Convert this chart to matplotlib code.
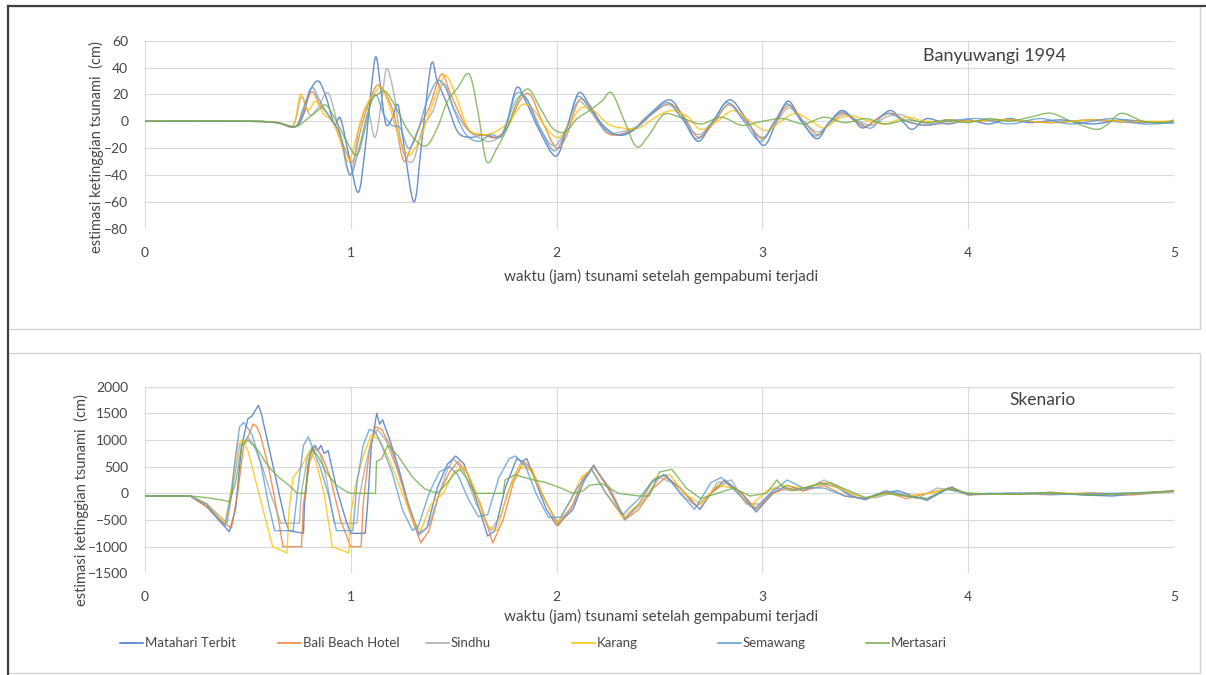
import matplotlib
matplotlib.use("Agg")
import matplotlib.pyplot as plt
from matplotlib.path import Path
from matplotlib.patches import PathPatch, Rectangle
from matplotlib.lines import Line2D
import numpy as np

plt.rcParams['font.family'] = ['Lato', 'DejaVu Sans']

# ---------------- DATA ----------------
series_names = ["Matahari Terbit", "Bali Beach Hotel", "Sindhu", "Karang", "Semawang", "Mertasari"]
series_colors = ["#4472C4", "#ED7D31", "#A5A5A5", "#FFC000", "#5B9BD5", "#70AD47"]

x_ticks = [0, 1, 2, 3, 4, 5]
top_y_ticks = [-80, -60, -40, -20, 0, 20, 40, 60]
bot_y_ticks = [-1500, -1000, -500, 0, 500, 1000, 1500, 2000]

top_title = "Banyuwangi 1994"
bot_title = "Skenario"
x_label = "waktu (jam) tsunami setelah gempabumi terjadi"
y_label = "estimasi ketinggian tsunami  (cm)"

# --- Banyuwangi 1994 (top panel), time in hours, height in cm ---
bw_t_matahari = [0, 0.5, 0.64, 0.73, 0.77, 0.80, 0.842, 0.88, 0.92, 0.95, 0.99, 1.036, 1.07, 1.10, 1.122, 1.145, 1.17, 1.2, 1.23, 1.26,
                 1.308, 1.345, 1.39, 1.42, 1.47, 1.52, 1.58, 1.65, 1.72, 1.76, 1.806, 1.85, 1.92, 1.997, 2.05, 2.106, 2.16, 2.22, 2.29, 2.36,
                 2.45, 2.549, 2.62, 2.687, 2.76, 2.84, 2.92, 3.005, 3.07, 3.126, 3.19, 3.264, 3.32, 3.384, 3.44, 3.488, 3.56, 3.625, 3.68, 3.729,
                 3.8, 3.9, 4.0, 4.1, 4.2, 4.3, 4.45, 4.6, 4.75, 4.9, 5.0]
bw_v_matahari = [0, 0, -1, -4, 5, 22, 30, 18, -2, 2, -25, -53, -20, 25, 48, 25, -2, 2, 12, -20,
                 -60, -15, 42, 30, 12, -8, -12, -10, -12, 0, 25, 15, -8, -26, -5, 21, 12, -2, -10, -8,
                 5, 16, 2, -15, 0, 16, 2, -18, 0, 15, 0, -13, -2, 8, 2, -5, 2, 8, 0, -6,
                 2, -2, 1, -2, 2, -1, 1, -2, 1, -1, -1]

bw_t_bali = [0, 0.5, 0.64, 0.73, 0.77, 0.81, 0.85, 0.89, 0.93, 0.97, 1.01, 1.05, 1.09, 1.13, 1.17, 1.21, 1.255, 1.29, 1.33, 1.38,
             1.44, 1.48, 1.53, 1.58, 1.64, 1.7, 1.76, 1.82, 1.87, 1.93, 2.0, 2.05, 2.11, 2.17, 2.24, 2.3, 2.38, 2.46, 2.55, 2.62,
             2.69, 2.77, 2.84, 2.92, 3.0, 3.06, 3.13, 3.2, 3.27, 3.33, 3.39, 3.45, 3.5, 3.56, 3.63, 3.7, 3.8, 3.9, 4.0, 4.2,
             4.4, 4.6, 4.8, 5.0]
bw_v_bali = [0, 0, -1, -4, 8, 22, 12, 5, -5, -20, -30, -5, 15, 27, 20, 5, -29, -20, -5, 10,
             35, 22, 5, -8, -10, -12, -5, 15, 20, 0, -20, -10, 16, 8, -8, -10, -5, 5, 13, 3,
             -12, 0, 13, 0, -13, 0, 12, 0, -10, 0, 6, 0, -4, 2, 6, 0, -3, 1, 0, 1,
             -1, 1, -1, 0]

bw_t_sindhu = [0, 0.5, 0.64, 0.72, 0.76, 0.80, 0.84, 0.89, 0.94, 0.996, 1.04, 1.08, 1.117, 1.15, 1.174, 1.21, 1.25, 1.3, 1.35, 1.4,
               1.45, 1.5, 1.56, 1.62, 1.68, 1.74, 1.8, 1.85, 1.9, 1.98, 2.04, 2.1, 2.16, 2.24, 2.31, 2.4, 2.48, 2.55, 2.62, 2.69,
               2.76, 2.84, 2.92, 3.0, 3.07, 3.13, 3.2, 3.27, 3.34, 3.4, 3.47, 3.53, 3.6, 3.67, 3.75, 3.85, 4.0, 4.2, 4.4, 4.6,
               4.8, 5.0]
bw_v_sindhu = [0, 0, -1, -3, 18, 5, 10, 21, -5, -40, -5, 10, -12, 15, 39, 20, -20, -30, -5, 8,
               28, 10, -5, -12, -15, -8, 15, 18, 0, -18, -8, 14, 8, -8, -8, -3, 8, 12, 0, -10,
               0, 12, 0, -12, 0, 10, 0, -8, 0, 5, 0, -3, 3, 5, 0, -2, 0, 1, -1, 1,
               -1, 0]

bw_t_karang = [0, 0.5, 0.64, 0.72, 0.755, 0.79, 0.83, 0.87, 0.91, 0.95, 0.99, 1.03, 1.07, 1.11, 1.15, 1.19, 1.23, 1.28, 1.33, 1.38,
               1.44, 1.47, 1.52, 1.57, 1.63, 1.7, 1.77, 1.83, 1.88, 1.95, 2.01, 2.07, 2.12, 2.18, 2.25, 2.32, 2.4, 2.48, 2.56, 2.64,
               2.7, 2.78, 2.86, 2.94, 3.02, 3.09, 3.16, 3.24, 3.3, 3.37, 3.44, 3.52, 3.6, 3.7, 3.8, 4.0, 4.2, 4.4, 4.6, 4.8,
               5.0]
bw_v_karang = [0, 0, -1, -3, 20, 8, 15, 5, 0, -15, -30, -10, 10, 20, 25, 10, -10, -25, -15, 5,
               30, 33, 15, -5, -10, -8, 0, 12, 10, -5, -12, 0, 10, 8, -2, -5, -5, 3, 8, 3,
               -6, 0, 8, 0, -7, 0, 6, 0, -5, 2, 4, 0, -2, 3, 0, 0, 1, -1, 1, 0,
               0]

bw_t_semawang = [0, 0.5, 0.64, 0.73, 0.77, 0.81, 0.85, 0.9, 0.95, 0.996, 1.04, 1.08, 1.12, 1.16, 1.2, 1.24, 1.28, 1.32, 1.37, 1.42,
                 1.46, 1.51, 1.56, 1.62, 1.68, 1.74, 1.8, 1.86, 1.92, 1.99, 2.05, 2.1, 2.16, 2.23, 2.3, 2.38, 2.46, 2.54, 2.61, 2.68,
                 2.76, 2.83, 2.91, 2.99, 3.06, 3.12, 3.19, 3.26, 3.33, 3.39, 3.46, 3.53, 3.6, 3.7, 3.8, 3.9, 4.05, 4.2, 4.35, 4.5,
                 4.7, 4.85, 5.0]
bw_v_semawang = [0, 0, -1, -4, 10, 25, 15, 2, -10, -40, -20, 5, 20, 5, -3, -5, -20, -10, 15, 30,
                 25, 5, -10, -15, -10, -10, 20, 15, -5, -22, -5, 18, 10, -5, -10, -6, 5, 14, 2, -13,
                 0, 14, 0, -15, 0, 13, 0, -11, 0, 7, 0, -5, 6, 0, -3, 0, 2, -2, 2, -2,
                 2, -2, -1]

bw_t_mertasari = [0, 0.5, 0.64, 0.73, 0.79, 0.84, 0.88, 0.93, 0.98, 1.03, 1.07, 1.1, 1.13, 1.17, 1.22, 1.27, 1.32, 1.37, 1.42, 1.47,
                  1.52, 1.576, 1.62, 1.66, 1.71, 1.76, 1.81, 1.863, 1.92, 1.98, 2.04, 2.1, 2.16, 2.22, 2.268, 2.33, 2.389, 2.45, 2.52, 2.6,
                  2.7, 2.8, 2.9, 3.0, 3.1, 3.2, 3.3, 3.4, 3.5, 3.6, 3.7, 3.8, 3.9, 4.0, 4.1, 4.2, 4.3, 4.4, 4.5, 4.62,
                  4.68, 4.745, 4.85, 4.95, 5.0]
bw_v_mertasari = [0, 0, -1, -4, 2, 8, 12, 0, -15, -25, -5, 15, 20, 22, 10, -5, -15, -18, -5, 15,
                  25, 35, 5, -30, -20, -5, 15, 24, 10, -5, -8, 2, 8, 15, 21, 0, -19, -10, 5, 3,
                  -2, 3, -3, 0, 2, -2, 3, -1, 2, -2, 1, -1, 1, -1, 2, 0, 3, 6, 0, -6,
                  -2, 6, 0, -1, 1]

# --- Skenario (bottom panel) ---
sk_t_matahari = [0, 0.22, 0.3, 0.37, 0.41, 0.44, 0.47, 0.5, 0.52, 0.535, 0.551, 0.565, 0.6, 0.64, 0.68, 0.70, 0.77, 0.775, 0.8, 0.826,
                 0.84, 0.855, 0.87, 0.89, 0.93, 0.98, 1.0, 1.07, 1.08, 1.1, 1.126, 1.14, 1.155, 1.166, 1.19, 1.23, 1.28, 1.33, 1.37, 1.42,
                 1.47, 1.51, 1.55, 1.6, 1.665, 1.7, 1.75, 1.806, 1.83, 1.855, 1.9, 1.95, 2.0, 2.08, 2.14, 2.18, 2.25, 2.333, 2.4, 2.46,
                 2.52, 2.6, 2.695, 2.75, 2.816, 2.9, 2.97, 3.05, 3.12, 3.2, 3.28, 3.36, 3.43, 3.5, 3.58, 3.66, 3.73, 3.8, 3.86, 3.92,
                 4.0, 4.1, 4.25, 4.4, 4.55, 4.7, 4.85, 5.0]
sk_v_matahari = [-50, -50, -250, -550, -720, -300, 900, 1400, 1450, 1550, 1650, 1500, 900, 200, -500, -700, -750, -200, 700, 900,
                 800, 900, 750, 800, 100, -550, -750, -750, -300, 900, 1500, 1300, 1380, 1250, 1000, 500, -200, -750, -650, 100,
                 550, 700, 550, 0, -800, -700, 100, 650, 600, 650, 200, -300, -600, -300, 300, 530, 100, -480, -200, 200,
                 350, 100, -300, 0, 250, 0, -350, 0, 150, 50, 200, 120, -50, -120, 0, 50, -50, -130, 0, 120,
                 -30, 0, -20, 20, -30, -50, 0, 50]

sk_t_bali = [0, 0.22, 0.3, 0.38, 0.42, 0.45, 0.48, 0.51, 0.525, 0.543, 0.56, 0.6, 0.64, 0.67, 0.76, 0.77, 0.8, 0.83, 0.86, 0.9,
             0.95, 1.0, 1.05, 1.06, 1.09, 1.12, 1.15, 1.19, 1.24, 1.29, 1.34, 1.38, 1.43, 1.48, 1.52, 1.57, 1.63, 1.69, 1.74, 1.79,
             1.84, 1.88, 1.94, 2.01, 2.08, 2.13, 2.18, 2.25, 2.33, 2.4, 2.47, 2.53, 2.6, 2.68, 2.75, 2.82, 2.9, 2.97, 3.05, 3.12,
             3.2, 3.3, 3.4, 3.5, 3.6, 3.7, 3.8, 3.92, 4.0, 4.2, 4.4, 4.6, 4.8, 5.0]
sk_v_bali = [-50, -50, -250, -550, -650, 0, 900, 1150, 1300, 1250, 1100, 500, -300, -1000, -1000, -200, 600, 850, 700, 300,
             -500, -1000, -1000, -200, 800, 1250, 1200, 900, 300, -400, -930, -700, 0, 400, 600, 350, -200, -930, -500, 200,
             600, 450, -100, -600, -200, 300, 500, 100, -500, -300, 100, 300, 100, -250, 0, 200, 0, -300, 0, 100,
             50, 150, -50, -100, 30, -100, 0, 100, -30, 0, -20, 10, -30, 40]

sk_t_sindhu = [0, 0.22, 0.3, 0.37, 0.4, 0.43, 0.46, 0.5, 0.53, 0.57, 0.61, 0.66, 0.75, 0.76, 0.79, 0.82, 0.85, 0.88, 0.92, 1.03,
               1.04, 1.07, 1.1, 1.13, 1.17, 1.22, 1.27, 1.33, 1.38, 1.43, 1.47, 1.5, 1.55, 1.61, 1.68, 1.73, 1.78, 1.83, 1.88, 1.94,
               2.0, 2.07, 2.13, 2.18, 2.26, 2.33, 2.41, 2.5, 2.56, 2.63, 2.7, 2.78, 2.85, 2.92, 2.99, 3.06, 3.14, 3.22, 3.3, 3.38,
               3.46, 3.55, 3.65, 3.75, 3.85, 3.93, 4.05, 4.2, 4.4, 4.6, 4.8, 5.0]
sk_v_sindhu = [-50, -50, -200, -450, -560, 200, 900, 1050, 900, 500, 0, -560, -560, 0, 700, 900, 750, 300, -560, -560,
               -100, 500, 1000, 1200, 1000, 500, -100, -800, -600, 0, 450, 650, 400, -200, -700, -400, 200, 600, 400, -100,
               -550, -300, 200, 500, 100, -480, -200, 300, 200, -100, -300, 200, 250, -200, -200, 100, 50, 100, 250, 100,
               -80, -80, 20, -100, 100, 50, -20, 0, -30, 0, -20, 30]

sk_t_karang = [0, 0.22, 0.3, 0.36, 0.39, 0.42, 0.45, 0.47, 0.5, 0.54, 0.58, 0.62, 0.69, 0.7, 0.72, 0.76, 0.8, 0.83, 0.87, 0.91,
               0.99, 1.0, 1.02, 1.06, 1.1, 1.14, 1.19, 1.25, 1.3, 1.34, 1.39, 1.45, 1.5, 1.55, 1.6, 1.66, 1.71, 1.76, 1.82, 1.87,
               1.93, 2.0, 2.06, 2.12, 2.17, 2.24, 2.32, 2.4, 2.48, 2.55, 2.62, 2.7, 2.78, 2.86, 2.94, 3.02, 3.1, 3.2, 3.3, 3.4,
               3.5, 3.6, 3.7, 3.8, 3.9, 4.0, 4.2, 4.4, 4.6, 4.8, 5.0]
sk_v_karang = [-50, -50, -200, -450, -550, 100, 900, 1000, 800, 200, -400, -1000, -1120, -300, 300, 500, 800, 600, 0, -1000,
               -1120, -400, 100, 700, 1100, 1000, 600, 0, -500, -700, -200, 0, 400, 500, 100, -600, -700, 0, 500, 450,
               0, -580, -200, 300, 450, 0, -450, -200, 300, 350, 0, -200, 150, 100, -250, 50, 150, 100, 200, 50,
               -100, 0, -50, 0, 80, 0, -20, 20, -20, 0, 50]

sk_t_semawang = [0, 0.22, 0.3, 0.36, 0.39, 0.42, 0.44, 0.46, 0.48, 0.52, 0.56, 0.6, 0.63, 0.72, 0.74, 0.77, 0.794, 0.81, 0.85, 0.89,
                 0.93, 1.01, 1.03, 1.06, 1.09, 1.12, 1.15, 1.2, 1.25, 1.3, 1.33, 1.38, 1.43, 1.48, 1.52, 1.57, 1.62, 1.665, 1.72, 1.77,
                 1.8, 1.85, 1.9, 1.96, 2.02, 2.1, 2.17, 2.24, 2.32, 2.4, 2.47, 2.53, 2.6, 2.67, 2.75, 2.8, 2.88, 2.96, 3.04, 3.12,
                 3.2, 3.3, 3.4, 3.5, 3.6, 3.7, 3.8, 3.9, 4.0, 4.15, 4.3, 4.5, 4.7, 4.9, 5.0]
sk_v_semawang = [-50, -50, -200, -500, -600, 0, 700, 1250, 1330, 1100, 600, -200, -700, -700, 0, 900, 1060, 900, 500, 0,
                 -700, -700, 200, 900, 1200, 1150, 900, 400, -300, -700, -600, 0, 400, 500, 350, -100, -437, -400, 300, 650,
                 700, 500, 0, -450, -450, 100, 450, 0, -400, -100, 250, 350, 0, -300, 200, 300, 0, -300, 0, 250,
                 100, 100, -50, -100, 50, -50, -100, 80, -20, 0, 10, -20, 0, 20, 40]

sk_t_mertasari = [0, 0.22, 0.3, 0.38, 0.41, 0.44, 0.47, 0.5, 0.55, 0.6, 0.65, 0.7, 0.74, 0.78, 0.79, 0.81, 0.84, 0.88, 0.93, 0.98,
                  1.0, 1.12, 1.125, 1.15, 1.18, 1.23, 1.3, 1.36, 1.42, 1.47, 1.5, 1.53, 1.56, 1.6, 1.74, 1.75, 1.8, 1.84, 1.89, 1.95,
                  2.02, 2.08, 2.13, 2.16, 2.22, 2.3, 2.4, 2.45, 2.5, 2.56, 2.63, 2.7, 2.78, 2.86, 2.94, 3.02, 3.07, 3.1, 3.15, 3.25,
                  3.33, 3.42, 3.5, 3.6, 3.7, 3.8, 3.9, 4.0, 4.2, 4.4, 4.6, 4.8, 5.0]
sk_v_mertasari = [-50, -50, -80, -130, -160, 200, 900, 1000, 800, 500, 300, 150, 0, 0, 500, 850, 700, 400, 150, 30,
                  0, 0, 600, 650, 900, 700, 300, 80, 0, 200, 350, 450, 300, 0, 0, 250, 350, 300, 250, 200,
                  100, 0, 50, 150, 180, 0, -50, -50, 400, 450, 100, -100, 0, 100, -50, 0, 250, 120, 50, 150,
                  200, 50, -80, 0, -50, -100, 100, 0, -20, 10, -30, 0, 40]

top_series = [(bw_t_matahari, bw_v_matahari), (bw_t_bali, bw_v_bali), (bw_t_sindhu, bw_v_sindhu),
              (bw_t_karang, bw_v_karang), (bw_t_semawang, bw_v_semawang), (bw_t_mertasari, bw_v_mertasari)]
bot_series = [(sk_t_matahari, sk_v_matahari), (sk_t_bali, sk_v_bali), (sk_t_sindhu, sk_v_sindhu),
              (sk_t_karang, sk_v_karang), (sk_t_semawang, sk_v_semawang), (sk_t_mertasari, sk_v_mertasari)]

# ---------------- FIGURE ----------------
W, H = 1206, 675
fig = plt.figure(figsize=(W / 100, H / 100), dpi=100)
fig.patch.set_facecolor("white")

def fx(px):
    return px / W

def fy(py):
    return 1 - py / H

# panel frames
for (x0, y0, x1, y1) in [(8, 6, 1200, 329), (8, 353, 1200, 673)]:
    fig.add_artist(Rectangle((fx(x0), fy(y1)), fx(x1) - fx(x0), fy(y0) - fy(y1),
                             transform=fig.transFigure, fill=False, edgecolor="#d4d4d4", lw=1.0))
fig.add_artist(Line2D([fx(8), fx(8)], [0, fy(6)], transform=fig.transFigure, color="#404040", lw=1.6))
fig.add_artist(Line2D([fx(8), 1], [fy(6), fy(6)], transform=fig.transFigure, color="#404040", lw=1.6))

ax_left, ax_right = 145, 1174
ax1 = fig.add_axes([fx(ax_left), fy(228.7), fx(ax_right) - fx(ax_left), fy(40.7) - fy(228.7)])
ax2 = fig.add_axes([fx(ax_left), fy(573.3), fx(ax_right) - fx(ax_left), fy(386.7) - fy(573.3)])

tick_color = "#474747"
for ax, yt in [(ax1, top_y_ticks), (ax2, bot_y_ticks)]:
    ax.set_xlim(0, 5)
    ax.set_ylim(yt[0], yt[-1])
    ax.set_xticks(x_ticks)
    ax.set_yticks(yt)
    for s in ax.spines.values():
        s.set_visible(False)
    ax.grid(True, color="#d9d9d9", lw=0.8)
    ax.set_axisbelow(True)
    ax.tick_params(axis="both", length=0, labelsize=10, colors=tick_color)
    ax.tick_params(axis="y", pad=12)
    ax.tick_params(axis="x", pad=13)


def smooth_path(t, v):
    pts = np.column_stack([t, v]).astype(float)
    n = len(pts)
    verts = [pts[0]]
    codes = [Path.MOVETO]
    for i in range(n - 1):
        p0 = pts[i - 1] if i > 0 else pts[i]
        p1 = pts[i]
        p2 = pts[i + 1]
        p3 = pts[i + 2] if i + 2 < n else pts[i + 1]
        c1 = p1 + (p2 - p0) / 6.0
        c2 = p2 - (p3 - p1) / 6.0
        verts += [c1, c2, p2]
        codes += [Path.CURVE4, Path.CURVE4, Path.CURVE4]
    return Path(verts, codes)


for (t, v), c in zip(top_series, series_colors):
    ax1.add_patch(PathPatch(smooth_path(t, v), fill=False, edgecolor=c, lw=1.0, alpha=0.8))

for (t, v), c, name in zip(bot_series, series_colors, series_names):
    ax2.plot(t, v, color=c, lw=1.0, alpha=0.8, label=name)

ax1.text(4.13, 48.6, top_title, ha="center", va="center", fontsize=13, color="#404040")
ax2.text(4.36, 1750, bot_title, ha="center", va="center", fontsize=12.5, color="#404040")

# axis titles
fig.text(fx(661), fy(276), x_label, ha="center", va="center", fontsize=11, color=tick_color)
fig.text(fx(661), fy(616), x_label, ha="center", va="center", fontsize=11, color=tick_color)
fig.text(fx(96), fy(147), y_label, ha="center", va="center", rotation=90, fontsize=10.5, color=tick_color)
fig.text(fx(81), fy(500), y_label, ha="center", va="center", rotation=90, fontsize=10.5, color=tick_color)

# legend (Excel-style evenly spaced entries)
leg_x = [120, 278, 426, 572, 718, 866]
leg_y = 643
for x0, c, name in zip(leg_x, series_colors, series_names):
    fig.add_artist(Line2D([fx(x0), fx(x0 + 23)], [fy(leg_y), fy(leg_y)], transform=fig.transFigure,
                          color=c, lw=1.1))
    fig.text(fx(x0 + 25), fy(leg_y), name, ha="left", va="center", fontsize=9.5, color=tick_color)

fig.savefig("out.png", dpi=100, facecolor="white")
